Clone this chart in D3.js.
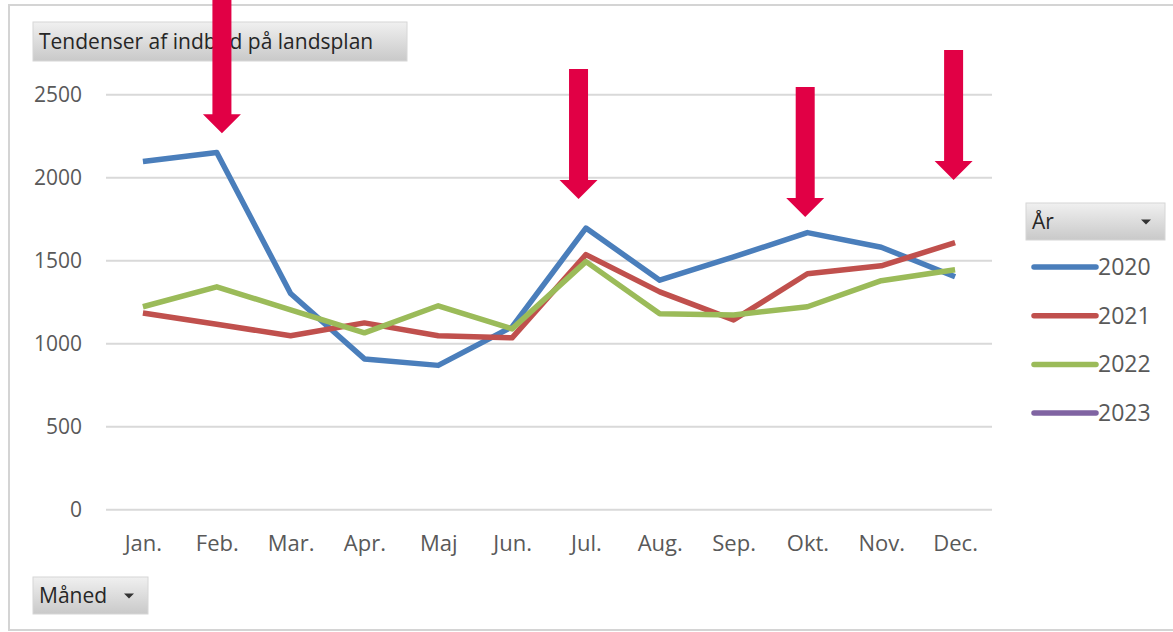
<!DOCTYPE html>
<html>
<head>
<meta charset="utf-8">
<script src="https://cdn.jsdelivr.net/npm/d3@7"></script>
<style>
    body { margin: 0; background: #fff; }
    text { font-family: "Open Sans", Lato, sans-serif; }
</style>
</head>
<body>
<script>
const months = ["Jan.", "Feb.", "Mar.", "Apr.", "Maj", "Jun.", "Jul.", "Aug.", "Sep.", "Okt.", "Nov.", "Dec."]
const years = ["2020", "2021", "2022", "2023"]
const v2020 = [2095, 2150, 1300, 906, 867, 1099, 1694, 1380, 1520, 1667, 1579, 1401]
const v2021 = [1183, 1115, 1045, 1123, 1045, 1033, 1534, 1310, 1141, 1419, 1467, 1606]
const v2022 = [1220, 1340, 1202, 1063, 1226, 1087, 1492, 1178, 1171, 1220, 1377, 1443]
const v2023 = []
const yTicks = [0, 500, 1000, 1500, 2000, 2500]
const colors = ["#4a7ebb", "#c0504d", "#9bbb59", "#8064a2"]
// arrows: month index (fractional) and start/end in value units
const arrows = [
    { at: 1.07, from: 3100, to: 2266 },
    { at: 5.90, from: 2652, to: 1869 },
    { at: 8.97, from: 2544, to: 1761 },
    { at: 10.98, from: 2767, to: 1984 }
]

const series = [v2020, v2021, v2022, v2023]
const W = 1173, H = 632

const svg = d3.select("body").append("svg")
    .attr("width", W)
    .attr("height", H)

const defs = svg.append("defs")
const grad = defs.append("linearGradient")
    .attr("id", "btn")
    .attr("x1", 0).attr("y1", 0).attr("x2", 0).attr("y2", 1)
grad.append("stop").attr("offset", "0%").attr("stop-color", "#f0f0f0")
grad.append("stop").attr("offset", "100%").attr("stop-color", "#c9c9c9")

/* outer frame */
svg.append("rect")
    .attr("x", 9).attr("y", 5)
    .attr("width", W + 10).attr("height", 625)
    .attr("fill", "#fff")
    .attr("stroke", "#d4d4d4")
    .attr("stroke-width", 2)

const x = d3.scalePoint().domain(months).range([106, 992]).padding(0.5)
const xi = d3.scaleLinear().domain([0, 11]).range([x(months[0]), x(months[11])])
const y = d3.scaleLinear().domain([0, 2500]).range([509.3, 94.3])

/* grid + y axis */
const yAxis = svg.append("g")
    .attr("transform", "translate(106,0)")
    .call(d3.axisLeft(y).tickValues(yTicks).tickFormat(d3.format("d")).tickSize(-886).tickPadding(24))
yAxis.select(".domain").remove()
yAxis.selectAll(".tick line").attr("stroke", "#d9d9d9").attr("stroke-width", 2)
yAxis.selectAll(".tick text")
    .attr("fill", "#595959")
    .style("font-size", "21px")

/* x axis labels */
const xAxis = svg.append("g")
    .attr("transform", "translate(0,509.3)")
    .call(d3.axisBottom(x).tickSize(0).tickPadding(26))
xAxis.select(".domain").remove()
xAxis.selectAll(".tick text")
    .attr("fill", "#595959")
    .style("font-size", "22px")

/* lines */
const line = d3.line()
    .x((d, i) => x(months[i]))
    .y(d => y(d))

svg.append("g")
    .selectAll("path")
    .data(series)
    .join("path")
    .attr("d", d => d.length ? line(d) : null)
    .attr("fill", "none")
    .attr("stroke", (d, i) => colors[i])
    .attr("stroke-width", 5.5)
    .attr("stroke-linejoin", "round")

/* buttons */
function button(x0, y0, w, h, label, dropdown) {
    const g = svg.append("g").attr("transform", `translate(${x0},${y0})`)
    g.append("rect")
        .attr("width", w).attr("height", h)
        .attr("fill", "url(#btn)")
        .attr("stroke", "#d6d6d6")
    g.append("text")
        .attr("x", 6).attr("y", h / 2 + 7)
        .attr("fill", "#262626")
        .style("font-size", "21px")
        .text(label)
    if (dropdown) {
        g.append("path")
            .attr("d", `M${w - 24},${h / 2 - 2}h10l-5,5z`)
            .attr("fill", "#333")
    }
}
button(33, 22, 374, 39, "Tendenser af indbud på landsplan", false)
button(33, 577, 115, 37, "Måned", true)
button(1026, 203, 139, 37, "År", true)

/* legend */
const legend = svg.append("g")
    .selectAll("g")
    .data(years)
    .join("g")
    .attr("transform", (d, i) => `translate(1034,${267 + i * 48.7})`)
legend.append("line")
    .attr("x1", 0).attr("x2", 62)
    .attr("stroke", (d, i) => colors[i])
    .attr("stroke-width", 5.5)
    .attr("stroke-linecap", "round")
legend.append("text")
    .attr("x", 64).attr("y", 8)
    .attr("fill", "#595959")
    .style("font-size", "23px")
    .text(d => d)

/* arrows */
const shaftW = 19, headW = 38, headH = 19
svg.append("g")
    .selectAll("path")
    .data(arrows)
    .join("path")
    .attr("d", d => {
        const cx = xi(d.at), top = y(d.from), tip = y(d.to)
        const hs = tip - headH
        return `M${cx - shaftW / 2},${top}V${hs}H${cx - headW / 2}L${cx},${tip}L${cx + headW / 2},${hs}H${cx + shaftW / 2}V${top}Z`
    })
    .attr("fill", "#e10045")
</script>
</body>
</html>
